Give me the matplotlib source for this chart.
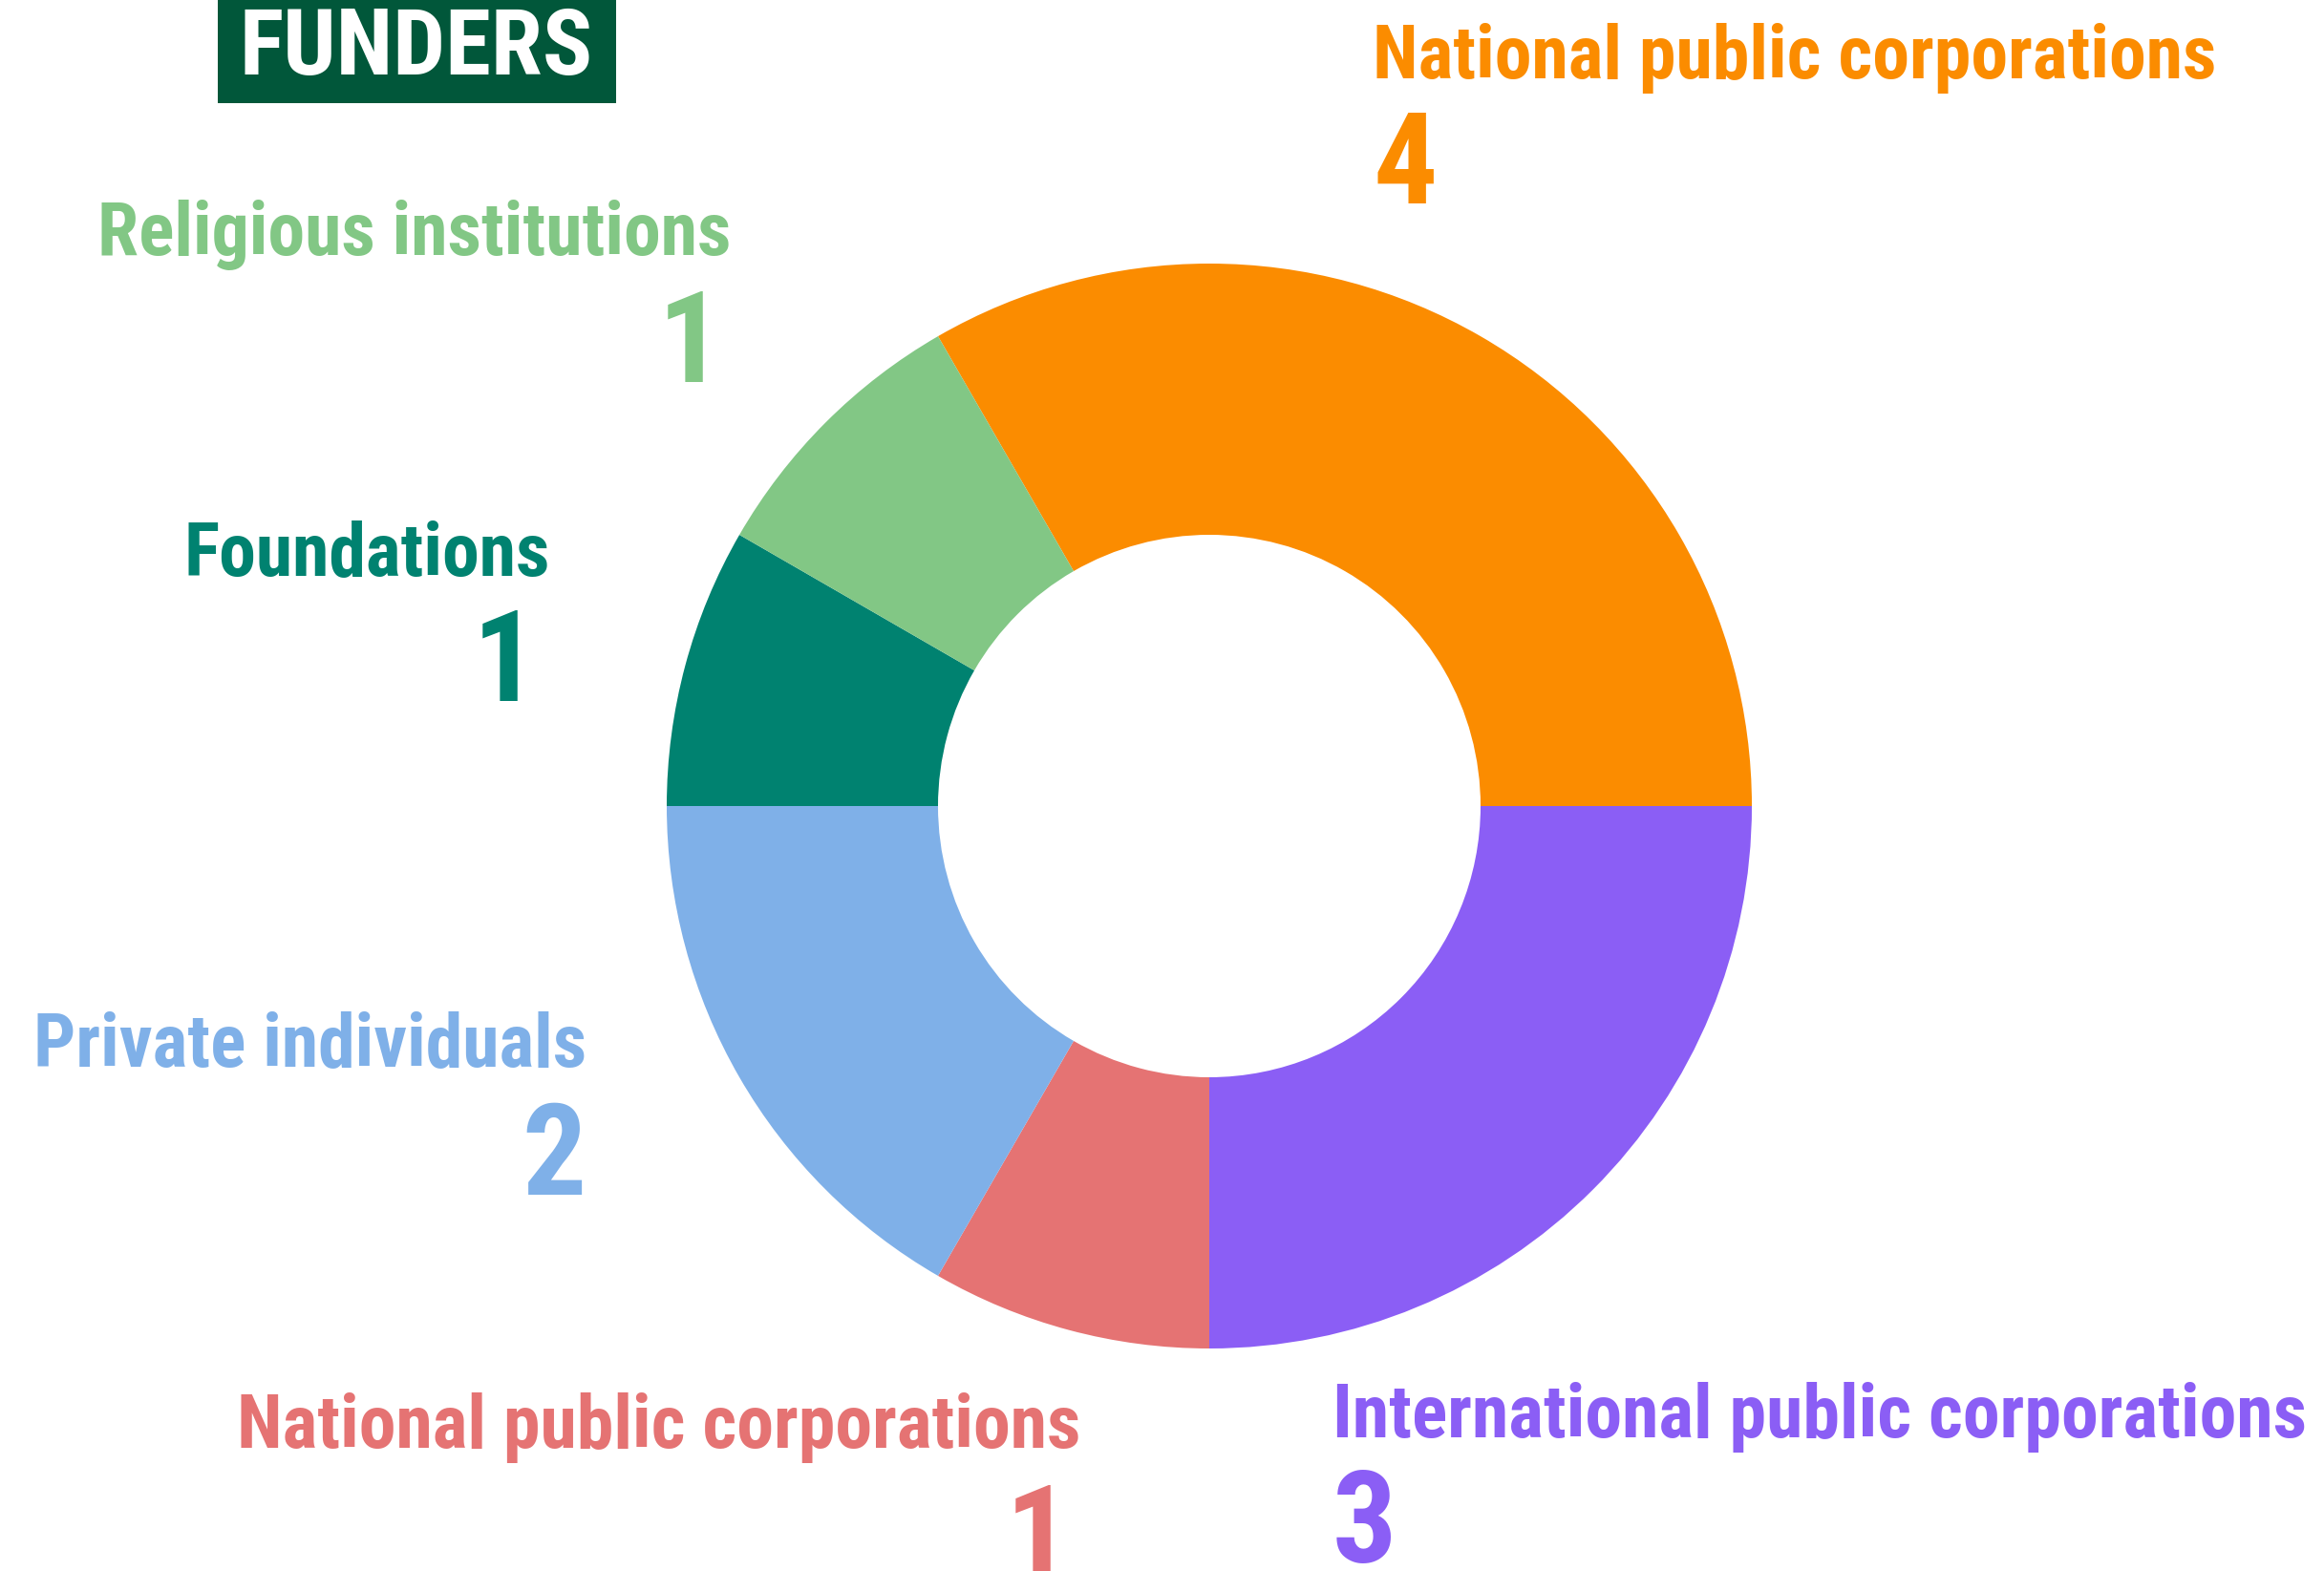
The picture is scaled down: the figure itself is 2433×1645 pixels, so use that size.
import matplotlib
matplotlib.use("Agg")
import matplotlib.pyplot as plt
from matplotlib.patches import Rectangle

# ---- data ----
categories = ["National public corporations", "International public corporations",
              "National public corporations", "Private individuals",
              "Foundations", "Religious institutions"]
values = [4, 3, 1, 2, 1, 1]
colors = ["#FB8C00", "#8B5EF5", "#E57373", "#7FB0E8", "#008270", "#82C785"]
title = "FUNDERS"

W, H = 2433, 1645
fig = plt.figure(figsize=(W / 100, H / 100), dpi=100)
fig.patch.set_facecolor("white")

FONT = ["Roboto Condensed", "DejaVu Sans"]

# donut
cx, cy, R = 1266, 844, 568
ax = fig.add_axes([(cx - R) / W, (H - cy - R) / H, 2 * R / W, 2 * R / H])
ax.pie(values, colors=colors, startangle=120, counterclock=False, radius=1,
       wedgeprops=dict(width=0.5, linewidth=0))
ax.set_xlim(-1, 1)
ax.set_ylim(-1, 1)
ax.set_aspect("equal")
ax.axis("off")

def px(x, y):
    return x / W, 1 - y / H

# title box
fig.patches.append(Rectangle(px(228, 108), (645 - 228) / W, 108 / H,
                             transform=fig.transFigure, facecolor="#01573A",
                             edgecolor="none", zorder=0))
fig.text(*px(436, 78), title, color="white", fontsize=70, fontweight="heavy",
         family=FONT, ha="center", va="baseline")

LBL = 56
NUM = 96
# (label index, label anchor x, label baseline y, number x, number baseline y, ha)
layout = [
    (0, 1437, 82, 1437, 213, "left"),
    (1, 1395, 1505, 1395, 1636, "left"),
    (2, 1131, 1516, 1120, 1650, "right"),
    (3, 614, 1116, 614, 1251, "right"),
    (4, 576, 602, 562, 734, "right"),
    (5, 765, 267, 756, 400, "right"),
]
for i, lx, ly, nx, ny, ha in layout:
    fig.text(*px(lx, ly), categories[i], color=colors[i], fontsize=LBL,
             fontweight="bold", family=FONT, ha=ha, va="baseline")
    fig.text(*px(nx, ny), str(values[i]), color=colors[i], fontsize=NUM,
             fontweight="bold", family=FONT, ha=ha, va="baseline")

fig.savefig("out.png", dpi=100, facecolor="white")
